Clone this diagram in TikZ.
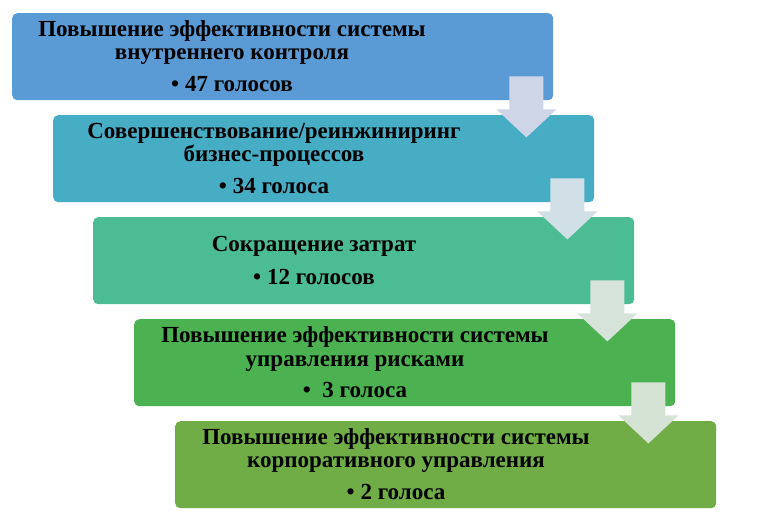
\documentclass[tikz,border=0pt]{standalone}
\usepackage{fontspec}
\setmainfont{Liberation Serif}[BoldFont={Liberation Serif Bold}]
\usetikzlibrary{calc}
\definecolor{cA}{HTML}{5B9BD5}
\definecolor{cB}{HTML}{47ADC5}
\definecolor{cC}{HTML}{4BBC93}
\definecolor{cD}{HTML}{4CB150}
\definecolor{cE}{HTML}{70AD47}
\definecolor{aA}{HTML}{CDD5E7}
\definecolor{aB}{HTML}{D1E0E6}
\definecolor{aC}{HTML}{D5E3DA}
\definecolor{aD}{HTML}{D5E3D4}
\begin{document}
\begin{tikzpicture}[x=1pt,y=-1pt,
  stagebox/.style={draw=none,fill=#1,rounded corners=5pt,minimum width=541pt,minimum height=87pt,anchor=north west,inner sep=0pt},
  txt/.style={font=\bfseries\fontsize{23}{25}\selectfont,anchor=base,inner sep=0pt,text=black},
  downarrow/.style={fill=#1,draw=none}]
\useasboundingbox (0,0) rectangle (770,515);
% boxes
\node[stagebox=cA] (b1) at (12,13) {};
\node[stagebox=cB] (b2) at (53,115) {};
\node[stagebox=cC] (b3) at (93,217) {};
\node[stagebox=cD] (b4) at (134,319) {};
\node[stagebox=cE] (b5) at (175,421) {};
% texts
\node[txt] (t1a) at ($(b1.north west)+(220,23.5)$) {Повышение эффективности системы};
\node[txt] (t1b) at ($(b1.north west)+(220,46.5)$) {внутреннего контроля};
\node[txt] (t1c) at ($(b1.north west)+(220,78)$) {•\ 47 голосов};
\node[txt] (t2a) at ($(b2.north west)+(221,23)$) {Совершенствование/реинжиниринг};
\node[txt] (t2b) at ($(b2.north west)+(221,46.5)$) {бизнес-процессов};
\node[txt] (t2c) at ($(b2.north west)+(221,78)$) {•\ 34 голоса};
\node[txt] (t3a) at ($(b3.north west)+(221,34)$) {Сокращение затрат};
\node[txt] (t3b) at ($(b3.north west)+(221,67)$) {•\ 12 голосов};
\node[txt] (t4a) at ($(b4.north west)+(221,23.5)$) {Повышение эффективности системы};
\node[txt] (t4b) at ($(b4.north west)+(221,47)$) {управления рисками};
\node[txt] (t4c) at ($(b4.north west)+(221,78)$) {•\ \ 3 голоса};
\node[txt] (t5a) at ($(b5.north west)+(221,23.5)$) {Повышение эффективности системы};
\node[txt] (t5b) at ($(b5.north west)+(221,46.5)$) {корпоративного управления};
\node[txt] (t5c) at ($(b5.north west)+(221,78)$) {•\ 2 голоса};
% arrows
\foreach \b/\c in {b1/aA,b2/aB,b3/aC,b4/aD}{
  \coordinate (top) at ($(\b.south east)+(-27,-24)$);
  \fill[downarrow=\c] ($(top)+(-17,0)$) -- ($(top)+(17,0)$) -- ($(top)+(17,33)$) -- ($(top)+(30,33)$)
     -- ($(top)+(0,61)$) -- ($(top)+(-30,33)$) -- ($(top)+(-17,33)$) -- cycle;
}
\end{tikzpicture}
\end{document}
